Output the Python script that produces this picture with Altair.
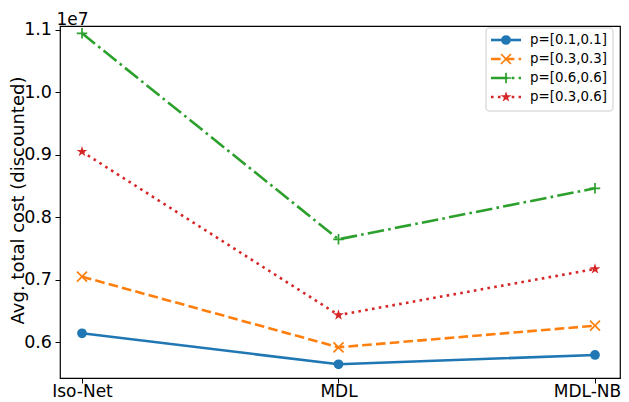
import math
import altair as alt
import pandas as pd

methods = ["Iso-Net", "MDL", "MDL-NB"]
series = ["p=[0.1,0.1]", "p=[0.3,0.3]", "p=[0.6,0.6]", "p=[0.3,0.6]"]
# values in units of 1e7 (as shown on the axis)
v_01_01 = [0.6141, 0.5645, 0.5794]
v_03_03 = [0.7048, 0.5917, 0.6263]
v_06_06 = [1.0947, 0.7647, 0.8464]
v_03_06 = [0.9051, 0.6434, 0.7171]
values = [v_01_01, v_03_03, v_06_06, v_03_06]
y_ticks = [0.6, 0.7, 0.8, 0.9, 1.0, 1.1]

colors = ["#1f77b4", "#ff7f0e", "#2ca02c", "#d62728"]
lw = 2.6
dashes = [[1, 0], [9.6, 4.2], [16.6, 4.2, 2.6, 4.2], [2.6, 4.3]]

# marker shapes (unit box -1..1)
pts = []
for k in range(10):
    r = 1.0 if k % 2 == 0 else 0.382
    a = math.pi / 2 + k * math.pi / 5
    pts.append((r * math.cos(a), -r * math.sin(a)))
star = "M" + "L".join(f"{x:.3f},{y:.3f}" for x, y in pts) + "Z"
xmark = "M-1,-1L1,1M1,-1L-1,1"
plus = "M-1,0L1,0M0,-1L0,1"
marker = [
    dict(shape="circle", filled=True, size=95, strokeWidth=0),
    dict(shape=xmark, filled=False, size=100, strokeWidth=1.7),
    dict(shape=plus, filled=False, size=110, strokeWidth=1.7),
    dict(shape=star, filled=True, size=130, strokeWidth=0),
]

rows = []
for s, vals in zip(series, values):
    for i, (m, v) in enumerate(zip(methods, vals)):
        rows.append({"series": s, "method": m, "idx": i, "value": v})
df = pd.DataFrame(rows)

W, H = 560, 352
label_expr = "[" + ",".join(f"'{m}'" for m in methods) + "][datum.value]"

X = alt.X(
    "idx:Q",
    scale=alt.Scale(domain=[-0.0858, 2.0975], nice=False, zero=False),
    axis=alt.Axis(
        values=[0, 1, 2], labelExpr=label_expr, title=None, grid=False, domain=False,
        tickSize=5, tickColor="black", labelFontSize=17, labelColor="black",
        labelPadding=0, labelFlush=False, labelOverlap=False, labelBound=False,
        labelOffset={"expr": "datum.value == 2 ? -8 : 0"},
    ),
)
Y = alt.Y(
    "value:Q",
    scale=alt.Scale(domain=[0.5425, 1.1064], nice=False, zero=False),
    axis=alt.Axis(
        values=y_ticks, format=".1f", title="Avg. total cost (discounted)",
        grid=False, domain=False, tickSize=5, tickColor="black",
        labelFontSize=17.5, labelColor="black", labelPadding=3.5,
        titleFontSize=18, titleFontWeight="normal", titleColor="black",
        titleAngle=270, titleX=-36.5, titleY=174, titleAlign="center",
        titleBaseline="alphabetic",
    ),
)

layers = []
for s, c, d, mk in zip(series, colors, dashes, marker):
    sub = df[df.series == s]
    base = alt.Chart(sub).encode(x=X, y=Y)
    line_kwargs = dict(color=c, strokeWidth=lw, strokeCap="butt")
    if d != [1, 0]:
        line_kwargs["strokeDash"] = d
    layers.append(base.mark_line(**line_kwargs))
    layers.append(base.mark_point(color=c, opacity=1, **mk))

# exponent label
one = pd.DataFrame({"t": ["1e7"]})
layers.append(
    alt.Chart(one).mark_text(align="left", baseline="alphabetic", fontSize=17, color="black")
    .encode(x=alt.value(-3.5), y=alt.value(-1.5), text="t:N")
)

# legend
box = pd.DataFrame({"a": [0]})
layers.append(
    alt.Chart(box).mark_rect(fill="white", fillOpacity=0.8, stroke="#cccccc", strokeWidth=1, cornerRadius=3)
    .encode(x=alt.value(426), x2=alt.value(553), y=alt.value(2), y2=alt.value(85))
)
row_y = [14, 33, 52, 71]
for s, c, d, mk, ry in zip(series, colors, dashes, marker, row_y):
    ld = pd.DataFrame({"label": [s]})
    rk = dict(color=c, strokeWidth=lw, strokeCap="butt")
    if d != [1, 0]:
        rk["strokeDash"] = d
    layers.append(alt.Chart(ld).mark_rule(**rk).encode(x=alt.value(431), x2=alt.value(461), y=alt.value(ry)))
    layers.append(alt.Chart(ld).mark_point(color=c, opacity=1, **mk).encode(x=alt.value(446), y=alt.value(ry)))
    layers.append(
        alt.Chart(ld).mark_text(align="left", baseline="middle", fontSize=13.4, color="black")
        .encode(x=alt.value(470), y=alt.value(ry), text="label:N")
    )

chart = (
    alt.layer(*layers)
    .properties(
        width=W, height=H,
        autosize=alt.AutoSizeParams(type="none"),
        padding={"left": 52, "top": 18, "right": 1, "bottom": 24},
    )
    .configure(font="DejaVu Sans")
    .configure_view(stroke="black", strokeWidth=1.2)
)

chart.save("out.html", embed_options={"renderer": "svg", "actions": False})
